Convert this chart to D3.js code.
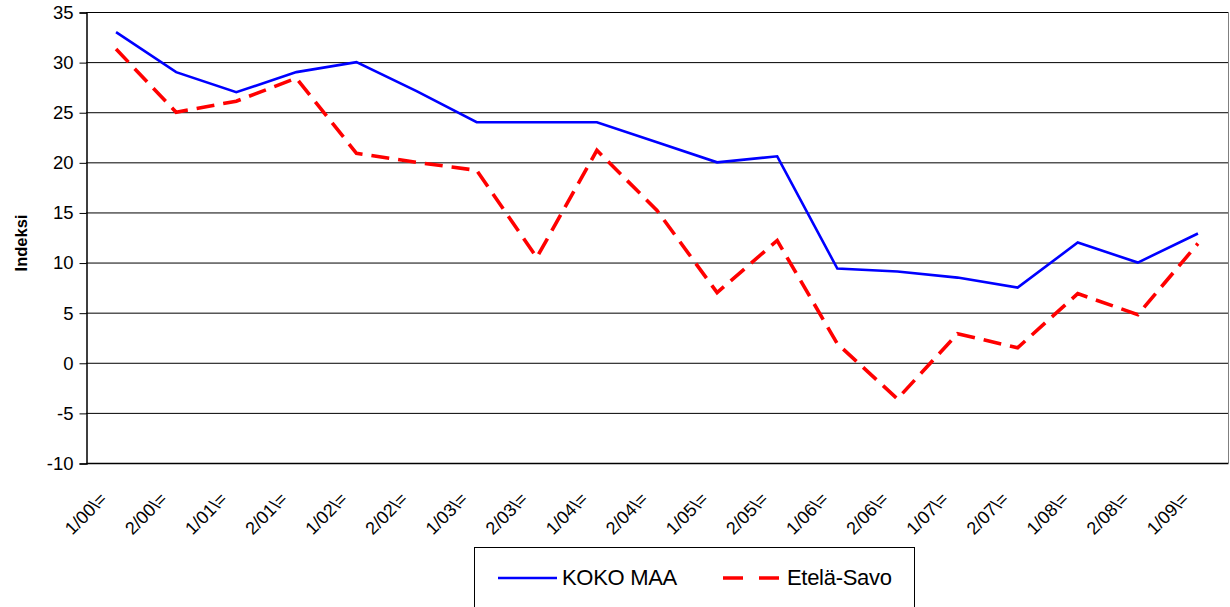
<!DOCTYPE html>
<html><head><meta charset="utf-8">
<script src="https://cdn.jsdelivr.net/npm/d3@7"></script>
<style>body{margin:0;background:#fff}svg{display:block}text{font-family:Arial,"Liberation Sans",sans-serif;fill:#000}</style>
</head><body>
<svg id="c" width="1230" height="607"></svg>
<script>
const categories = ["1/00\\=","2/00\\=","1/01\\=","2/01\\=","1/02\\=","2/02\\=","1/03\\=","2/03\\=","1/04\\=","2/04\\=","1/05\\=","2/05\\=","1/06\\=","2/06\\=","1/07\\=","2/07\\=","1/08\\=","2/08\\=","1/09\\="];
const kokoMaa = [33,29,27,29,30,27.1,24,24,24,22,20,20.6,9.4,9.1,8.5,7.5,12,10,12.9];
const etelaSavo = [31.3,25,26.1,28.4,20.9,20,19.2,10.5,21.2,15.2,7,12.2,1.9,-3.6,2.9,1.5,6.9,4.8,11.9];
const yTicks = [35,30,25,20,15,10,5,0,-5,-10];
const seriesNames = ["KOKO MAA","Etelä-Savo"];

const FONT = "Arial, 'Liberation Sans', sans-serif";
const svg = d3.select("#c");
const L = 86, R = 1228, T = 12, B = 463;
const x = d3.scaleBand().domain(categories).range([L, R]);
const y = d3.scaleLinear().domain([-10, 35]).range([B, T]);
const cx = d => x(d) + x.bandwidth()/2;

// gridlines
svg.append("g").selectAll("line").data(yTicks).join("line")
  .attr("x1", L).attr("x2", R).attr("y1", d => y(d)+0.5).attr("y2", d => y(d)+0.5)
  .attr("stroke", "#000").attr("stroke-width", 1);
// right border
svg.append("line").attr("x1", R+0.5).attr("x2", R+0.5).attr("y1", T).attr("y2", B)
  .attr("stroke", "#808080");

// y axis
const yAxis = d3.axisLeft(y).tickValues(yTicks).tickSize(7).tickPadding(6).tickFormat(d => String(d));
const gy = svg.append("g").attr("transform", `translate(${L+0.5},0.5)`).call(yAxis);
gy.select(".domain").attr("stroke", "#000").attr("stroke-width", 1.5);
gy.selectAll("text").style("font-size", "18.5px").style("font-family", FONT).attr("fill", "#000");

// x axis labels
const xAxis = d3.axisBottom(x).tickSize(0).tickPadding(0);
const gx = svg.append("g").attr("transform", `translate(0,${B})`).call(xAxis);
gx.select(".domain").attr("stroke", "#000").attr("stroke-width", 1.5);
gx.selectAll(".tick text")
  .style("font-size", "18px").style("font-family", FONT)
  .attr("fill", "#000")
  .attr("text-anchor", "end")
  .attr("dy", 0).attr("y", 0)
  .attr("transform", "translate(-8,37) rotate(-45)");

// y title
svg.append("text").attr("transform", "translate(27,243) rotate(-90)")
  .attr("text-anchor", "middle").style("font-size", "16.5px").style("font-weight", "bold").text("Indeksi");

// lines
const line = arr => d3.line().x((d,i) => cx(categories[i])).y(d => y(d))(arr);
svg.append("path").attr("d", line(kokoMaa)).attr("fill", "none")
  .attr("stroke", "#0000ff").attr("stroke-width", 2.6).attr("stroke-linejoin", "miter");
svg.append("path").attr("d", line(etelaSavo)).attr("fill", "none")
  .attr("stroke", "#ff0000").attr("stroke-width", 3.6).attr("stroke-dasharray", "18,9");

// legend
const lg = svg.append("g");
lg.append("rect").attr("x", 474.5).attr("y", 547.5).attr("width", 440).attr("height", 80)
  .attr("fill", "#fff").attr("stroke", "#000");
lg.append("line").attr("x1", 498).attr("x2", 557).attr("y1", 578).attr("y2", 578)
  .attr("stroke", "#0000ff").attr("stroke-width", 2.6);
lg.append("text").attr("x", 562).attr("y", 585).style("font-size", "22px").style("letter-spacing", "-0.3px").text(seriesNames[0]);
lg.append("line").attr("x1", 723).attr("x2", 780).attr("y1", 578).attr("y2", 578)
  .attr("stroke", "#ff0000").attr("stroke-width", 3.6).attr("stroke-dasharray", "20,16");
lg.append("text").attr("x", 787).attr("y", 585).style("font-size", "22px").style("letter-spacing", "-0.3px").text(seriesNames[1]);
</script>
</body></html>
